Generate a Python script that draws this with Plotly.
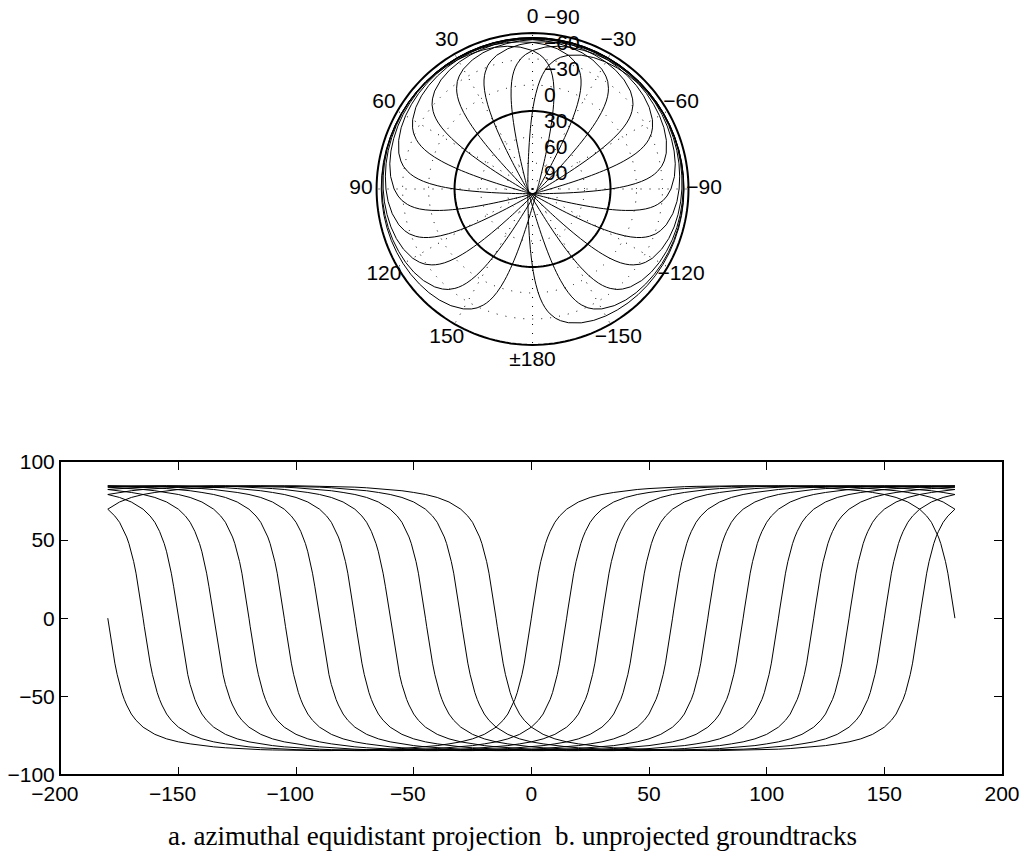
import numpy as np
import plotly.graph_objects as go

# ---- data ----
# ascending-node longitudes of the 12 groundtracks (deg)
NODES = [0, 15, 30, 45, 60, 75, 90, 105, 120, 135, 150, 165]
# half profile of one track: longitude offset from the ascending node vs latitude
PROFILE_OFFSET = [0, 0.5, 1, 1.5, 2, 3, 4, 5, 6, 7, 8, 10, 12, 15, 20, 25, 30, 35,
                  40, 45, 50, 55, 60, 65, 70, 75, 80, 85, 90]
PROFILE_LAT = [0, 5.2, 10.4, 15.4, 20.1, 28.8, 36.2, 42.5, 47.7, 52.0, 55.6, 61.4,
               65.4, 69.8, 74.4, 77.3, 79.2, 80.5, 81.6, 82.4, 83.0, 83.5, 83.9,
               84.2, 84.4, 84.6, 84.7, 84.8, 84.8]

ANG_TICKS = [0, 30, 60, 90, 120, 150, 180, 210, 240, 270, 300, 330]
ANG_LABELS = ["0", "30", "60", "90", "120", "150", "±180", "−150", "−120", "−90", "−60", "−30"]
RAD_TICKS_LAT = [90, 60, 30, 0, -30, -60, -90]
RAD_LABELS = ["90", "60", "30", "0", "−30", "−60", "−90"]
GRID_LAT = [60, 30, 0, -30, -60]
GRID_LON = [0, 30, 60, 90, 120, 150, 180, 210, 240, 270, 300, 330]
EQUATOR_LAT = 0
BOUNDARY_LAT = -90
X_TICKS = [-200, -150, -100, -50, 0, 50, 100, 150, 200]
X_LABELS = ["−200", "−150", "−100", "−50", "0", "50", "100", "150", "200"]
Y_TICKS = [-100, -50, 0, 50, 100]
CAPTION = "a. azimuthal equidistant projection  b. unprojected groundtracks"

# full track profile (symmetric great-circle shape)
prof = {}
for o, l in zip(PROFILE_OFFSET, PROFILE_LAT):
    prof[o] = l
    prof[180 - o] = l
    prof[-o] = -l
    prof[-(180 - o)] = -l
offs = sorted(prof)

FONT = "Liberation Sans, Arial, Helvetica, sans-serif"
RMAX = 90 - BOUNDARY_LAT          # 180, outer boundary of the map
RANGE_MAX = 200
fig = go.Figure()

# angular labels at 1.1 x outer radius
fig.add_trace(go.Scatterpolar(
    r=[RMAX * 1.1] * len(ANG_TICKS), theta=ANG_TICKS,
    mode="text", text=ANG_LABELS, textposition="middle center",
    textfont=dict(family=FONT, size=21, color="black"),
    cliponaxis=False, hoverinfo="skip", showlegend=False))

# dotted meridians of the graticule
sr, st = [], []
for lon in GRID_LON:
    sr += [0, RMAX, None]
    st += [lon, lon, None]
fig.add_trace(go.Scatterpolar(
    r=sr, theta=st, mode="lines", connectgaps=False,
    line=dict(color="black", width=1, dash="1px,8px"),
    showlegend=False, hoverinfo="skip"))

# equator and outer boundary circles
th_c = list(range(0, 361, 2))
for lat_c in [EQUATOR_LAT, BOUNDARY_LAT]:
    fig.add_trace(go.Scatterpolar(
        r=[90 - lat_c] * len(th_c), theta=th_c, mode="lines",
        line=dict(color="black", width=2), showlegend=False, hoverinfo="skip"))

for a in NODES:
    # polar: theta = longitude, r = 90 - latitude
    fig.add_trace(go.Scatterpolar(
        theta=[a + o for o in offs], r=[90 - prof[o] for o in offs],
        mode="lines", line=dict(color="black", width=1),
        showlegend=False, hoverinfo="skip"))
    # cartesian groundtrack
    pts = {}
    for o in offs:
        lon = ((a + o + 180) % 360) - 180
        pts[lon] = prof[o]
    if -180 in pts:
        pts[180] = pts[-180]
    lons = sorted(pts)
    fig.add_trace(go.Scatter(
        x=lons, y=[pts[v] for v in lons], mode="lines",
        line=dict(color="black", width=1), xaxis="x", yaxis="y",
        showlegend=False, hoverinfo="skip"))

# radial labels: same scale, subplot nudged a few pixels to the right
fig.add_trace(go.Scatterpolar(
    r=[90 - v for v in RAD_TICKS_LAT], theta=[0] * len(RAD_TICKS_LAT),
    mode="markers+text", text=RAD_LABELS, textposition="top right",
    marker=dict(size=4, color="rgba(0,0,0,0)"),
    textfont=dict(family=FONT, size=21, color="black"),
    cliponaxis=False, hoverinfo="skip", showlegend=False, subplot="polar2"))

# x tick labels: digits centred on the tick, minus sign hanging left
x_text = [t + "\u2007" if t.startswith("−") else t for t in X_LABELS]

hidden_ang = dict(rotation=90, direction="counterclockwise",
                  showticklabels=False, showline=False, showgrid=False, ticks="")

fig.update_layout(
    width=1024, height=854, margin=dict(l=0, r=0, t=0, b=0, autoexpand=False),
    paper_bgcolor="white", plot_bgcolor="white", showlegend=False,
    font=dict(family=FONT, size=21, color="black"),
    polar=dict(
        domain=dict(x=[0.3508, 0.6893], y=[0.5758, 0.9816]),
        bgcolor="rgba(0,0,0,0)",
        angularaxis=hidden_ang,
        radialaxis=dict(range=[0, RANGE_MAX], tickmode="array",
                        tickvals=[90 - v for v in GRID_LAT],
                        showticklabels=False, showline=False, ticks="",
                        showgrid=True, gridcolor="black", griddash="1px,8px", gridwidth=1),
    ),
    polar2=dict(
        domain=dict(x=[0.3586, 0.6971], y=[0.5758, 0.9816]),
        bgcolor="rgba(0,0,0,0)",
        angularaxis=hidden_ang,
        radialaxis=dict(range=[0, RANGE_MAX], showticklabels=False, showline=False,
                        ticks="", showgrid=False),
    ),
    xaxis=dict(domain=[0.0593, 0.9785], range=[-200, 200], tickmode="array", tickvals=X_TICKS,
               ticktext=x_text,
               ticks="inside", ticklen=8, tickcolor="black", showline=True, linecolor="black",
               linewidth=1.5, mirror="ticks", showgrid=False, zeroline=False, anchor="y",
               automargin=False, tickfont=dict(family=FONT, size=21, color="black")),
    yaxis=dict(domain=[0.0933, 0.4590], range=[-100, 100], tickmode="array", tickvals=Y_TICKS,
               ticks="inside", ticklen=8, tickcolor="black", showline=True, linecolor="black",
               linewidth=1.5, mirror="ticks", showgrid=False, zeroline=False, anchor="x",
               automargin=False, tickfont=dict(family=FONT, size=21, color="black")),
    annotations=[dict(text=CAPTION, xref="paper", yref="paper", x=0.5, y=1 - 836 / 854,
                      xanchor="center", yanchor="middle", showarrow=False,
                      font=dict(family="Liberation Serif, Times New Roman, serif", size=27,
                                color="black"))],
)

fig.write_html("out.html")
